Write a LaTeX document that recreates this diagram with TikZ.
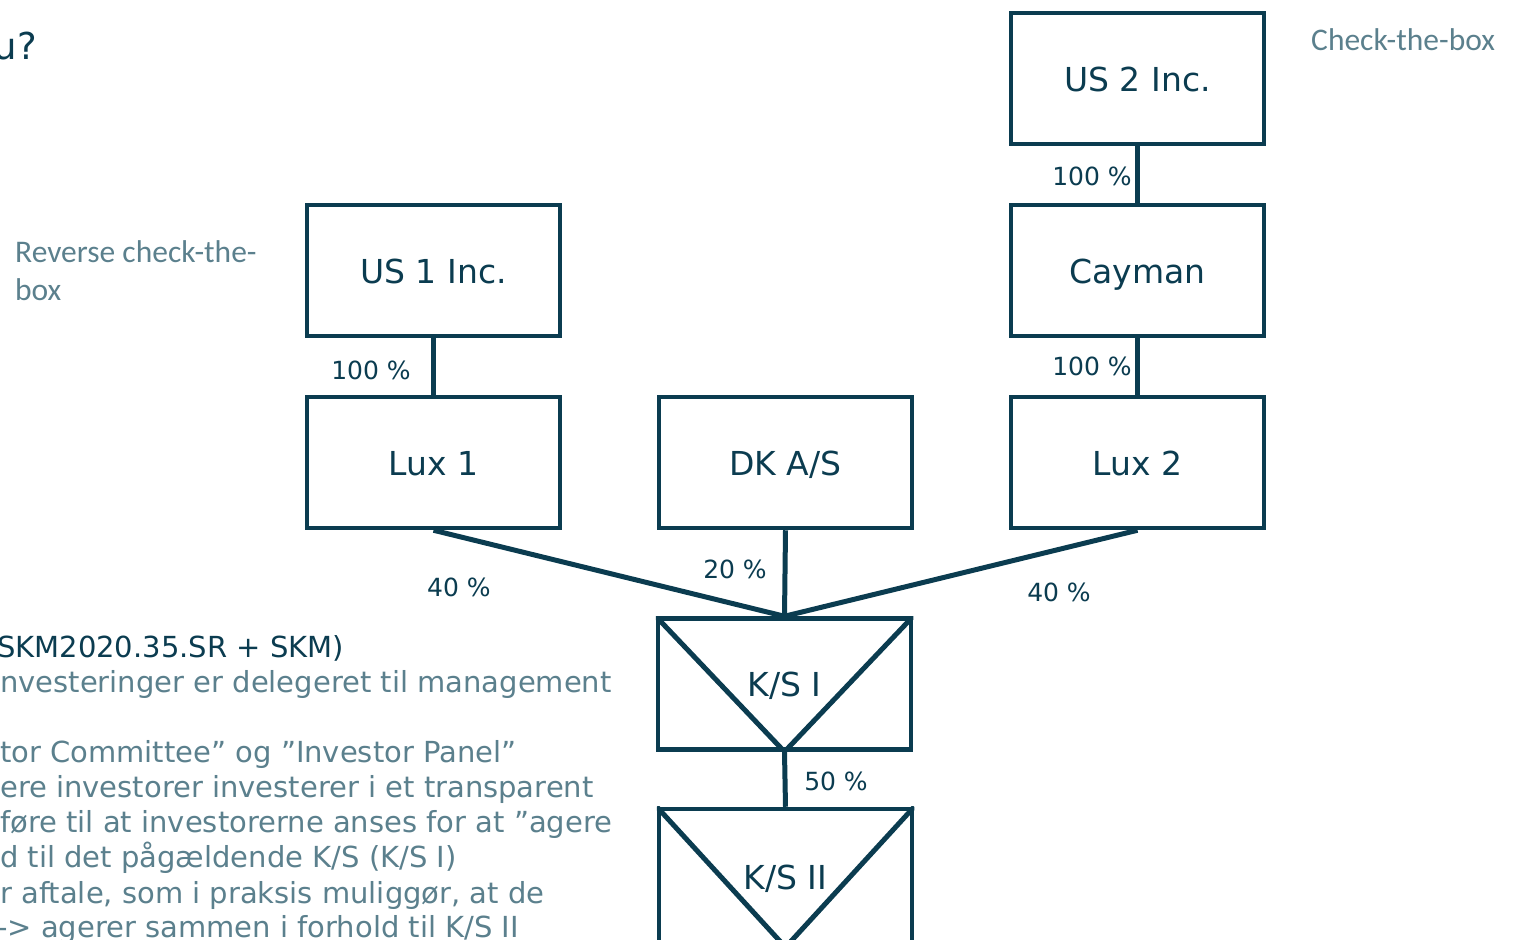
\documentclass[tikz,border=0pt]{standalone}
\usepackage{fontspec}
\setmainfont{DejaVu Sans}
\newfontfamily\carl{Carlito}
\definecolor{navy}{HTML}{0B3C50}
\definecolor{slate}{HTML}{5B808D}
\begin{document}
\begin{tikzpicture}[x=1pt,y=-1pt,
  ent/.style={draw=navy, line width=4.5pt, minimum width=253pt, minimum height=131pt, inner sep=0pt, font=\fontsize{33}{40}\selectfont, text=navy, text height=25pt, text depth=0pt},
  link/.style={draw=navy, line width=5pt},
  pct/.style={font=\fontsize{25}{30}\selectfont, text=navy, inner sep=0pt},
  note/.style={font=\carl\fontsize{31.5}{39}\selectfont, text=slate, inner sep=0pt, anchor=base west},
  body/.style={font=\fontsize{29}{35}\selectfont, text=slate, inner sep=0pt, anchor=base west}]
\useasboundingbox (0,0) rectangle (1516,940);
\clip (0,0) rectangle (1516,940);

% entities
\node[ent] (us2) at (1137.5,78.5) {US 2 Inc.};
\node[ent] (cay) at (1137.5,270.5) {Cayman};
\node[ent] (lux2) at (1137.5,462.5) {Lux 2};
\node[ent] (us1) at (433.5,270.5) {US 1 Inc.};
\node[ent] (lux1) at (433.5,462.5) {Lux 1};
\node[ent] (dk) at (785.5,462.5) {DK A/S};
\node[ent] (ks1) at (784.5,684) {K/S I};
\node[ent, minimum height=136pt] (ks2) at (785.5,877) {K/S II};

\begin{scope}
\clip (ks1.north west) rectangle (ks1.south east);
\draw[link, line join=round] (ks1.north west) -- (ks1.south) -- (ks1.north east);
\end{scope}
\begin{scope}
\clip (ks2.north west) rectangle (ks2.south east);
\draw[link, line join=round] (ks2.north west) -- (ks2.south) -- (ks2.north east);
\end{scope}

% connectors
\draw[link] (us2.south) -- (cay.north);
\draw[link] (cay.south) -- (lux2.north);
\draw[link] (us1.south) -- (lux1.north);
\draw[link] (lux1.south) -- (ks1.north);
\draw[link] (dk.south) -- (ks1.north);
\draw[link] (lux2.south) -- (ks1.north);
\draw[link] (ks1.south) -- (ks2.north);

% percentages
\node[pct] (p1) at (1092,176) {100 \%};
\node[pct] (p2) at (1092,366) {100 \%};
\node[pct] (p3) at (371,370) {100 \%};
\node[pct] (p4) at (459,587) {40 \%};
\node[pct] (p5) at (735,569) {20 \%};
\node[pct] (p6) at (1059,592) {40 \%};
\node[pct] (p7) at (836,781) {50 \%};

% notes
\node[note] (ctb) at (1311,50) {Check-the-box};
\node[note] (rctb1) at (15,262) {Reverse check-the-};
\node[note] (rctb2) at (15,300) {box};

% title fragment
\node[font=\fontsize{37}{44}\selectfont, text=navy, inner sep=0pt, anchor=base east] (ttl) at (37,59) {u?};

% body text
\node[body, text=navy] (b1) at (-3,657) {SKM2020.35.SR + SKM)};
\node[body] (b2) at (0,692) {nvesteringer er delegeret til management};
\node[body] (b3) at (0,762) {tor Committee” og ”Investor Panel”};
\node[body] (b4) at (0,797) {ere investorer investerer i et transparent};
\node[body] (b5) at (0,832) {føre til at investorerne anses for at ”agere};
\node[body] (b6) at (0,867) {d til det pågældende K/S (K/S I)};
\node[body] (b7) at (0,903) {r aftale, som i praksis muliggør, at de};
\node[body] (b8) at (-3,937) {-> agerer sammen i forhold til K/S II};
\end{tikzpicture}
\end{document}
